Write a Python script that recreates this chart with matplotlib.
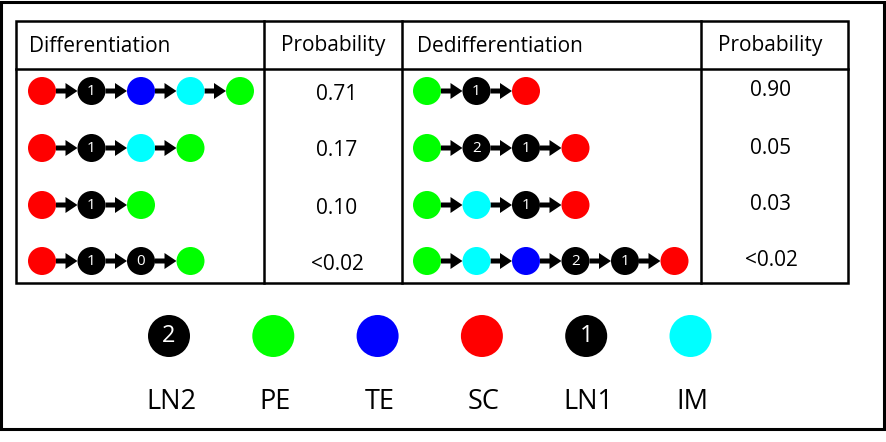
import matplotlib.pyplot as plt
from matplotlib.patches import Circle, Rectangle

# states of each transition path
diff_paths = [
    ['SC', 'LN1', 'TE', 'IM', 'PE'],
    ['SC', 'LN1', 'IM', 'PE'],
    ['SC', 'LN1', 'PE'],
    ['SC', 'LN1', 'LN0', 'PE'],
]
diff_probs = ['0.71', '0.17', '0.10', '<0.02']

dediff_paths = [
    ['PE', 'LN1', 'SC'],
    ['PE', 'LN2', 'LN1', 'SC'],
    ['PE', 'IM', 'LN1', 'SC'],
    ['PE', 'IM', 'TE', 'LN2', 'LN1', 'SC'],
]
dediff_probs = ['0.90', '0.05', '0.03', '<0.02']

legend_states = ['LN2', 'PE', 'TE', 'SC', 'LN1', 'IM']

state_colors = {
    'SC': '#FF0000', 'PE': '#00FF00', 'TE': '#0000FF', 'IM': '#00FFFF',
    'LN0': '#000000', 'LN1': '#000000', 'LN2': '#000000',
}

FONT = 'Open Sans'

fig = plt.figure(figsize=(8.87, 4.42), dpi=100)
ax = fig.add_axes([0, 0, 1, 1])
ax.set_xlim(0, 887)
ax.set_ylim(442, 0)
ax.set_aspect('equal')
ax.axis('off')


def draw_state(x, y, state, r, fs):
    ax.add_patch(Circle((x, y), r, color=state_colors[state], lw=0, zorder=3))
    if state.startswith('LN'):
        ax.text(x, y + 0.5, state[2:], color='white', fontsize=fs, ha='center',
                va='center', family=FONT, zorder=4)


def draw_path(x0, y, path, step=49.5, r=14):
    for i, s in enumerate(path):
        x = x0 + i * step
        draw_state(x, y, s, r, 11)
        if i < len(path) - 1:
            ax.arrow(x + r, y, step - 2 * r, 0, width=5, head_width=16,
                     head_length=12, length_includes_head=True, color='black',
                     lw=0, zorder=2)


# outer frame
ax.add_patch(Rectangle((1.5, 1.5), 883, 427, fill=False, lw=2.2, ec='black'))

# table grid
tl, tr, tt, tb, th = 16, 848, 21, 283, 69
lw = 1.8
ax.add_patch(Rectangle((tl, tt), tr - tl, tb - tt, fill=False, lw=lw, ec='black'))
ax.plot([tl, tr], [th, th], color='black', lw=lw)
for xc in [264, 402, 701]:
    ax.plot([xc, xc], [tt, tb], color='black', lw=lw)

hdr_fs = 15
hdr_y = 46
ax.text(29, hdr_y, 'Differentiation', fontsize=hdr_fs, va='center', family=FONT)
ax.text(333, hdr_y, 'Probability', fontsize=hdr_fs, va='center', ha='center', family=FONT)
ax.text(417, hdr_y, 'Dedifferentiation', fontsize=hdr_fs, va='center', family=FONT)
ax.text(770, hdr_y, 'Probability', fontsize=hdr_fs, va='center', ha='center', family=FONT)

row_y = [91, 148, 205, 261]
for y, path, p in zip(row_y, diff_paths, diff_probs):
    draw_path(42, y, path)
    ax.text(337, y + 3, p, fontsize=hdr_fs, ha='center', va='center', family=FONT)
for y, path, p in zip(row_y, dediff_paths, dediff_probs):
    draw_path(427, y, path)
    ax.text(771, y, p, fontsize=hdr_fs, ha='center', va='center', family=FONT)

# legend
leg_x0, leg_dx = 169, 104.3
for i, s in enumerate(legend_states):
    x = leg_x0 + i * leg_dx
    draw_state(x, 336, s, 21, 17)
    ax.text(x + 2, 402, s, fontsize=19.5, ha='center', va='center', family=FONT)

plt.savefig('out.png', dpi=100)
